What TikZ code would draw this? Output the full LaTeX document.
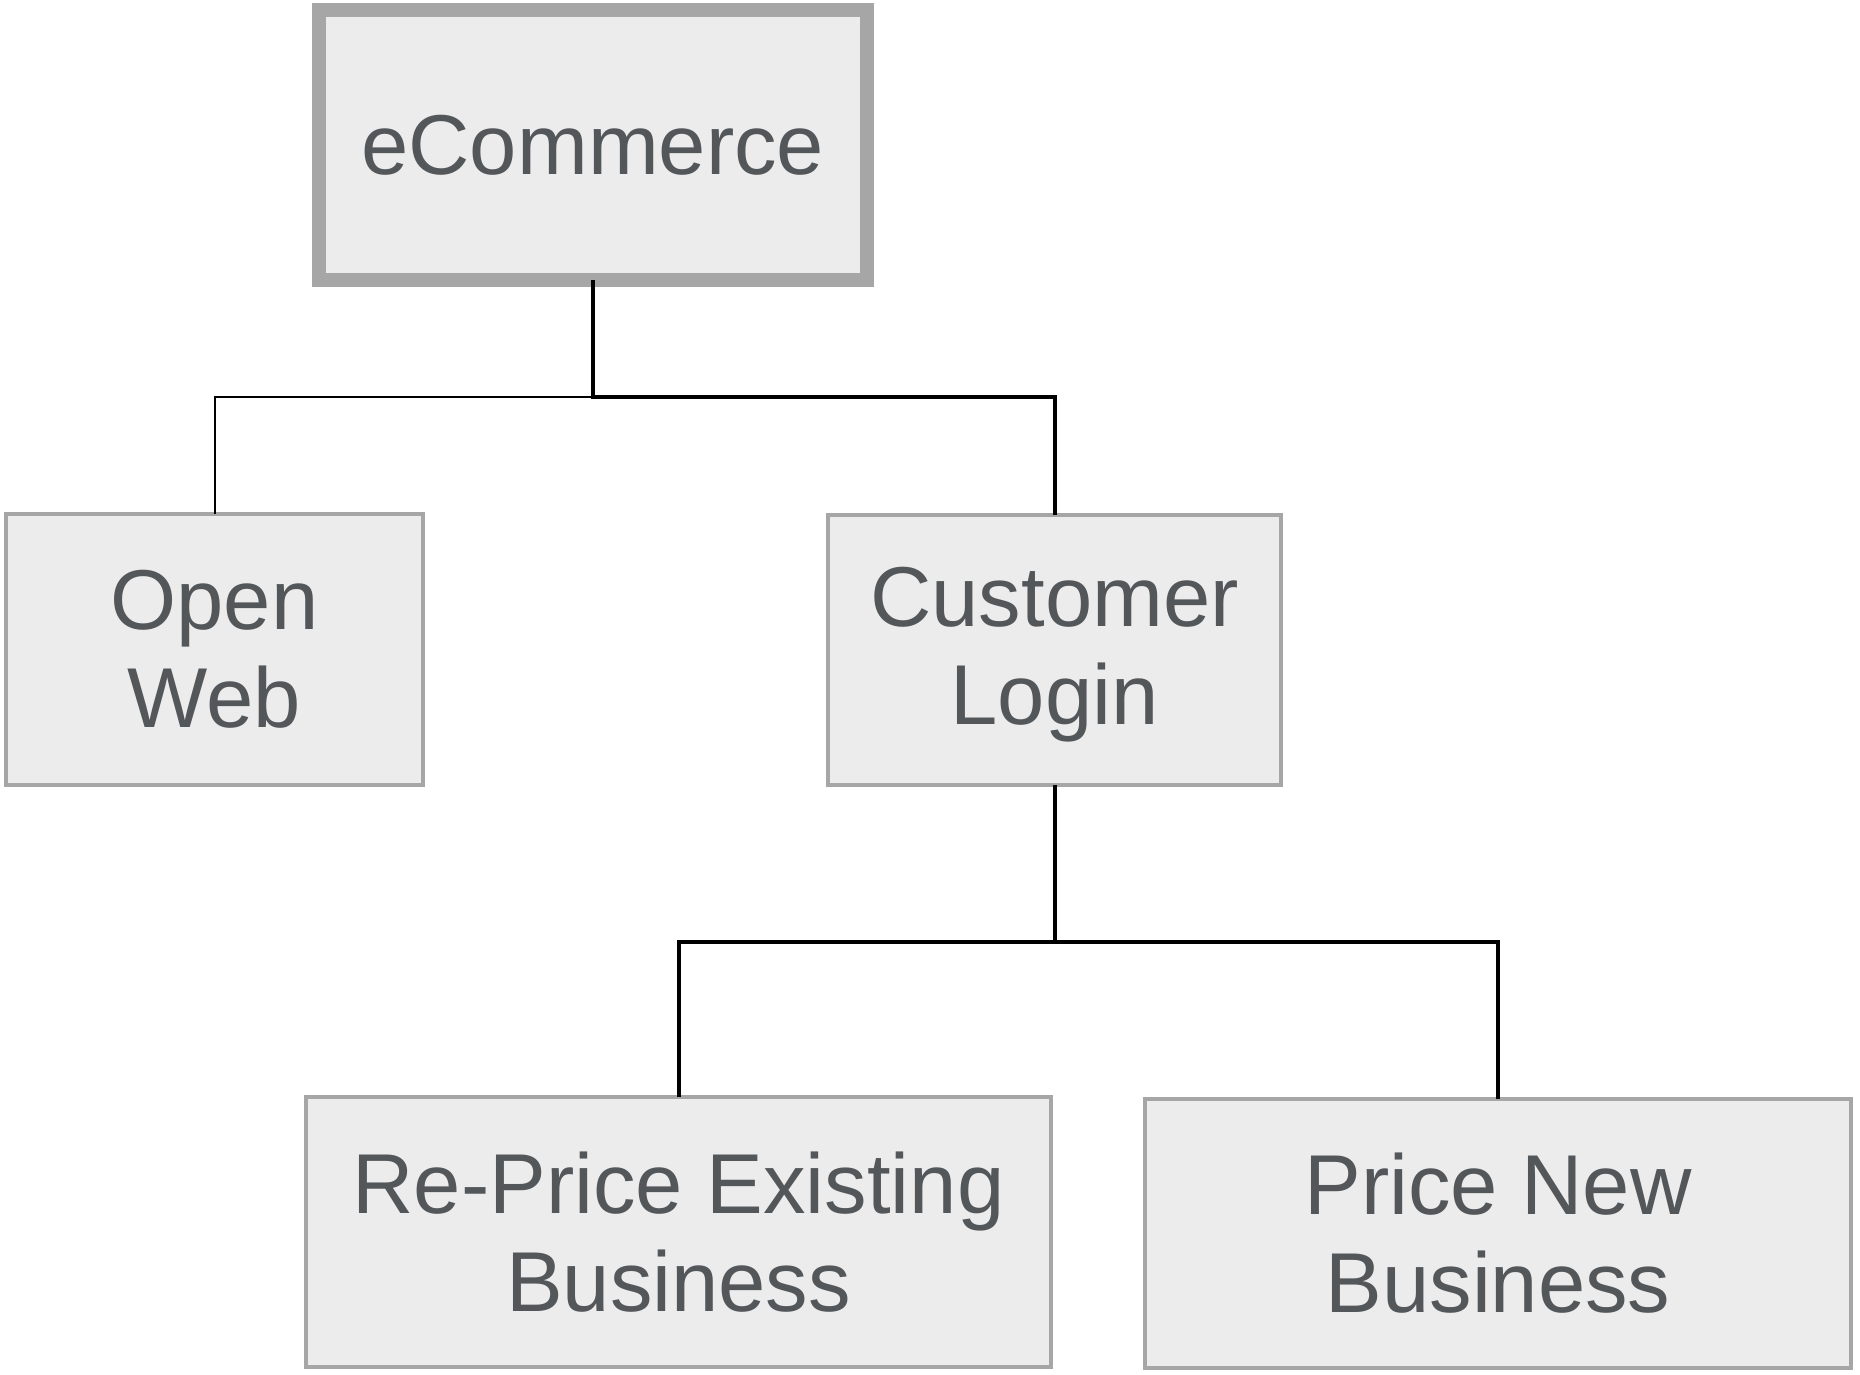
\documentclass[tikz,border=0pt]{standalone}
\usepackage{fontspec}
\setmainfont{Liberation Sans}
\definecolor{boxfill}{HTML}{ECECEC}
\definecolor{boxline}{HTML}{A6A6A6}
\definecolor{txt}{HTML}{53575A}
\begin{document}
\begin{tikzpicture}[x=1pt,y=-1pt,
  box/.style={draw=boxline,fill=boxfill,line width=4pt,inner sep=0pt,outer sep=0pt,
    text=txt,align=center,font=\fontsize{85}{98}\selectfont},
  conn/.style={line width=4pt,black},
  thinconn/.style={line width=2pt,black}]
\useasboundingbox (0,0) rectangle (1860,1375);
\node[box,line width=14pt,minimum width=548.5pt,minimum height=270pt] (ec) at (592.75,145) {eCommerce};
\node[box,minimum width=417pt,minimum height=271pt] (ow) at (214.5,649.5) {Open\\Web};
\node[box,minimum width=453pt,minimum height=270pt] (cl) at (1054.5,650) {\raisebox{-6pt}[\height][\depth]{\begin{tabular}{@{}c@{}}Customer\\Login\end{tabular}}};
\node[box,minimum width=745pt,minimum height=270pt] (rp) at (678.5,1232) {Re-Price Existing\\Business};
\node[box,minimum width=706pt,minimum height=269pt] (pn) at (1498,1233.5) {Price New\\Business};
\coordinate (j1) at (ec.south |- 0,397);
\coordinate (j2) at (cl.south |- 0,942);
\draw[conn] (ec.south) -- (j1) -| (cl.north);
\draw[thinconn] (j1) -| (ow.north);
\draw[conn] (cl.south) -- (j2) -| (rp.north);
\draw[conn] (j2) -| (pn.north);
\end{tikzpicture}
\end{document}
